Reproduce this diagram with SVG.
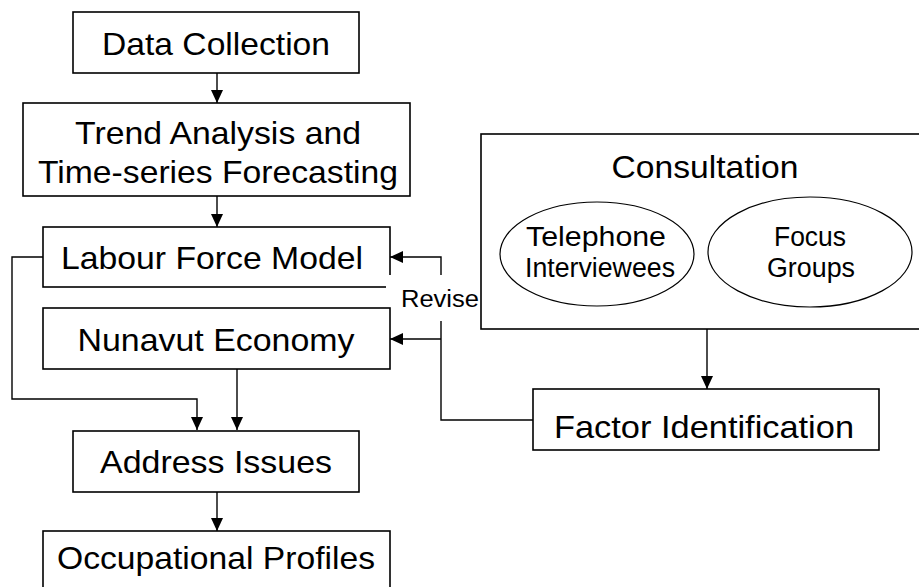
<svg xmlns="http://www.w3.org/2000/svg" width="919" height="587" viewBox="0 0 919 587">
  <style>
    .box { fill: #ffffff; stroke: #000000; stroke-width: 1.6; }
    .oval { fill: #ffffff; stroke: #000000; stroke-width: 1.2; }
    .line { fill: none; stroke: #000000; stroke-width: 1.4; }
    .t { font-family: "Liberation Sans", Arial, sans-serif; font-size: 32px; fill: #000000; text-anchor: middle; }
    .s { font-family: "Liberation Sans", Arial, sans-serif; font-size: 27px; fill: #000000; text-anchor: middle; }
    .lbl { font-family: "Liberation Sans", Arial, sans-serif; font-size: 23px; fill: #000000; }
  </style>
  <defs>
    <marker id="arrow" markerUnits="userSpaceOnUse" markerWidth="15" markerHeight="13" refX="13" refY="6" orient="auto">
      <path d="M0,0 L13,6 L0,12 Z" fill="#000000"/>
    </marker>
  </defs>
  <rect width="919" height="587" fill="#ffffff"/>

  <g id="data-collection">
    <rect class="box" x="73" y="12" width="286" height="61"/>
    <text class="t" x="216" y="55" textLength="228" lengthAdjust="spacingAndGlyphs">Data Collection</text>
  </g>

  <g id="trend-analysis">
    <rect class="box" x="23" y="103" width="387" height="93"/>
    <text class="t" x="218" y="144" textLength="286" lengthAdjust="spacingAndGlyphs">Trend Analysis and</text>
    <text class="t" x="218" y="183" textLength="360" lengthAdjust="spacingAndGlyphs">Time-series Forecasting</text>
  </g>

  <g id="labour-force-model">
    <rect class="box" x="43" y="227" width="347" height="60"/>
    <text class="t" x="212" y="269" textLength="302" lengthAdjust="spacingAndGlyphs">Labour Force Model</text>
  </g>

  <g id="connectors">
    <line class="line" x1="217" y1="73" x2="217" y2="103" marker-end="url(#arrow)"/>
    <line class="line" x1="217" y1="196" x2="217" y2="227" marker-end="url(#arrow)"/>
    <polyline class="line" points="43,257 12,257 12,399 197,399 197,430" marker-end="url(#arrow)"/>
    <line class="line" x1="237" y1="369" x2="237" y2="430" marker-end="url(#arrow)"/>
    <line class="line" x1="217" y1="492" x2="217" y2="531" marker-end="url(#arrow)"/>
    <line class="line" x1="707" y1="329" x2="707" y2="389" marker-end="url(#arrow)"/>
    <polyline class="line" points="533,420 441,420 441,257 390,257" marker-end="url(#arrow)"/>
    <line class="line" x1="441" y1="339" x2="390" y2="339" marker-end="url(#arrow)"/>
  </g>

  <g id="revise-label">
    <rect x="386" y="275" width="94" height="46" fill="#ffffff"/>
    <text class="lbl" x="401" y="307" textLength="78" lengthAdjust="spacingAndGlyphs">Revise</text>
  </g>

  <g id="nunavut-economy">
    <rect class="box" x="43" y="308" width="347" height="61"/>
    <text class="t" x="216" y="351" textLength="277" lengthAdjust="spacingAndGlyphs">Nunavut Economy</text>
  </g>

  <g id="address-issues">
    <rect class="box" x="73" y="431" width="286" height="61"/>
    <text class="t" x="216" y="473" textLength="232" lengthAdjust="spacingAndGlyphs">Address Issues</text>
  </g>

  <g id="occupational-profiles">
    <rect class="box" x="43" y="531" width="347" height="62"/>
    <text class="t" x="216" y="569" textLength="318" lengthAdjust="spacingAndGlyphs">Occupational Profiles</text>
  </g>

  <g id="consultation">
    <rect class="box" x="481" y="134" width="450" height="195"/>
    <text class="t" x="705" y="178" textLength="187" lengthAdjust="spacingAndGlyphs">Consultation</text>
  </g>

  <g id="telephone-interviewees">
    <ellipse class="oval" cx="597" cy="254" rx="97" ry="52"/>
    <text class="s" x="596" y="246" textLength="140" lengthAdjust="spacingAndGlyphs">Telephone</text>
    <text class="s" x="600" y="277" textLength="150" lengthAdjust="spacingAndGlyphs">Interviewees</text>
  </g>

  <g id="focus-groups">
    <ellipse class="oval" cx="810" cy="252" rx="102" ry="55"/>
    <text class="s" x="810" y="246" textLength="72" lengthAdjust="spacingAndGlyphs">Focus</text>
    <text class="s" x="811" y="277" textLength="88" lengthAdjust="spacingAndGlyphs">Groups</text>
  </g>

  <g id="factor-identification">
    <rect class="box" x="533" y="389" width="346" height="61"/>
    <text class="t" x="704" y="438" textLength="300" lengthAdjust="spacingAndGlyphs">Factor Identification</text>
  </g>
</svg>
